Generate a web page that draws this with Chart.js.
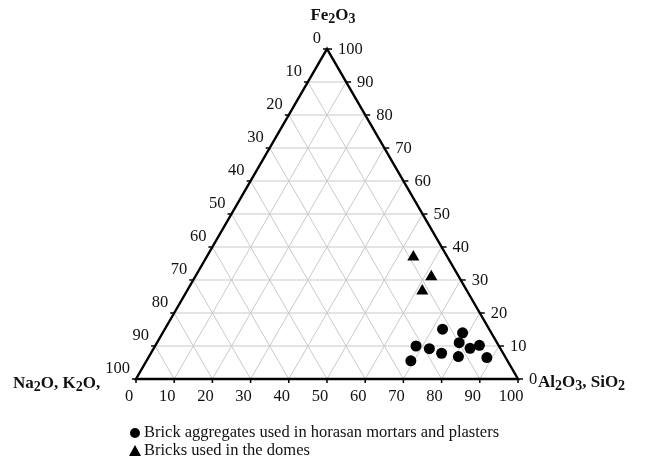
<!DOCTYPE html>
<html>
<head>
<meta charset="utf-8">
<script src="https://cdn.jsdelivr.net/npm/chart.js@4/dist/chart.umd.min.js"></script>
<style>
  body { margin: 0; background: #fff; }
</style>
</head>
<body>
<canvas id="ternary" width="646" height="460"></canvas>
<script>
// Brick aggregates (horasan mortars and plasters), wt% of each corner
const aggAlSi = [72.7, 78.5, 79.1, 68.3, 72.2, 76.1, 82.8, 84.8, 69.2, 81.0, 88.6];
const aggFe   = [15.1, 14.0, 11.0, 10.0,  9.2,  7.8,  9.3, 10.2,  5.5,  6.8,  6.5];
const aggNaK  = [12.2,  7.5,  9.9, 21.7, 18.6, 16.1,  7.9,  5.0, 25.3, 12.2,  4.9];

// Bricks used in the domes
const domeAlSi = [54.1, 61.8, 61.6];
const domeFe   = [37.0, 31.0, 26.7];
const domeNaK  = [ 8.9,  7.2, 11.7];

const tickValues = [0, 10, 20, 30, 40, 50, 60, 70, 80, 90, 100];
const gridSteps = [10, 20, 30, 40, 50, 60, 70, 80, 90];

const SQ = Math.sqrt(3) / 2;
const SERIF = '"Liberation Serif", "Times New Roman", serif';
const TICK_FONT = `16.5px ${SERIF}`;

// ternary (Al2O3+SiO2, Fe2O3, Na2O+K2O) -> cartesian, Na/K corner at origin
const toXY = (a, f, n) => {
  const s = a + f + n;
  return { x: (a + f / 2) * 100 / s, y: f * SQ * 100 / s };
};

const toPoints = (al, fe, nak) => al.map((a, i) => toXY(a, fe[i], nak[i]));

// draws text with subscript digits, e.g. [['Fe'], ['2', true], ['O'], ['3', true]]
const drawRich = (ctx, parts, x, y, align, size) => {
  const big = `bold ${size}px ${SERIF}`;
  const small = `bold ${Math.round(size * 0.85)}px ${SERIF}`;
  const widths = parts.map(([t, sub]) => {
    ctx.font = sub ? small : big;
    return ctx.measureText(t).width;
  });
  const total = widths.reduce((s, w) => s + w, 0);
  let cx = align === 'center' ? x - total / 2 : align === 'right' ? x - total : x;
  ctx.textAlign = 'left';
  ctx.textBaseline = 'alphabetic';
  parts.forEach(([t, sub], i) => {
    ctx.font = sub ? small : big;
    ctx.fillText(t, cx, sub ? y + size * 0.2 : y);
    cx += widths[i];
  });
};

const ternaryFrame = {
  id: 'ternaryFrame',
  beforeDatasetsDraw(chart) {
    const { ctx, scales: { x, y } } = chart;
    const px = (a, f) => [x.getPixelForValue(a + f / 2), y.getPixelForValue(f * SQ)];
    const line = (p, q) => {
      ctx.beginPath();
      ctx.moveTo(p[0], p[1]);
      ctx.lineTo(q[0], q[1]);
      ctx.stroke();
    };

    ctx.save();
    ctx.strokeStyle = '#c9c9c9';
    ctx.lineWidth = 1;
    gridSteps.forEach((v) => {
      line(px(0, v), px(100 - v, v));        // constant Fe2O3
      line(px(v, 0), px(v, 100 - v));        // constant Al2O3, SiO2
      line(px(100 - v, 0), px(0, 100 - v));  // constant Na2O, K2O
    });

    // outline
    ctx.strokeStyle = '#000';
    ctx.lineWidth = 2.4;
    ctx.lineJoin = 'miter';
    const [p0, p1, p2] = [px(0, 0), px(100, 0), px(0, 100)];
    ctx.beginPath();
    ctx.moveTo(p0[0], p0[1]);
    ctx.lineTo(p1[0], p1[1]);
    ctx.lineTo(p2[0], p2[1]);
    ctx.closePath();
    ctx.stroke();

    // tick marks
    ctx.lineWidth = 1.5;
    tickValues.forEach((v) => {
      const b = px(v, 0);
      line(b, [b[0], b[1] + 4]);
      const l = px(0, 100 - v);
      line(l, [l[0] - 4, l[1]]);
      const r = px(100 - v, v);
      line(r, [r[0] + 5, r[1]]);
    });
    ctx.restore();
  },
  afterDraw(chart) {
    const { ctx, scales: { x, y } } = chart;
    const px = (a, f) => [x.getPixelForValue(a + f / 2), y.getPixelForValue(f * SQ)];

    ctx.save();
    ctx.fillStyle = '#111';
    ctx.font = TICK_FONT;
    ctx.textBaseline = 'middle';
    tickValues.forEach((v) => {
      const b = px(v, 0);
      ctx.textAlign = 'center';
      ctx.fillText(String(v), b[0] - 7, b[1] + 18);
      const l = px(0, 100 - v);
      ctx.textAlign = 'right';
      ctx.fillText(String(v), l[0] - 6, l[1] - 10);
      const r = px(100 - v, v);
      ctx.textAlign = 'left';
      ctx.fillText(String(v), r[0] + 11, r[1] + 1);
    });

    // corner titles
    const top = px(0, 100);
    drawRich(ctx, [['Fe'], ['2', true], ['O'], ['3', true]], top[0] + 6, 20, 'center', 17);
    drawRich(ctx, [['Na'], ['2', true], ['O, K'], ['2', true], ['O,']], 13, 388, 'left', 17);
    drawRich(ctx, [['Al'], ['2', true], ['O'], ['3', true], [', SiO'], ['2', true]], 538, 387, 'left', 17);

    // legend
    ctx.fillStyle = '#000';
    ctx.beginPath();
    ctx.arc(135, 433, 5, 0, Math.PI * 2);
    ctx.fill();
    ctx.beginPath();
    ctx.moveTo(135, 445);
    ctx.lineTo(141, 456);
    ctx.lineTo(129, 456);
    ctx.closePath();
    ctx.fill();

    ctx.fillStyle = '#111';
    ctx.font = TICK_FONT;
    ctx.textAlign = 'left';
    ctx.textBaseline = 'middle';
    ctx.fillText('Brick aggregates used in horasan mortars and plasters', 144, 433);
    ctx.fillText('Bricks used in the domes', 144, 451);
    ctx.restore();
  }
};

new Chart(document.getElementById('ternary'), {
  type: 'scatter',
  data: {
    datasets: [
      {
        label: 'Brick aggregates used in horasan mortars and plasters',
        data: toPoints(aggAlSi, aggFe, aggNaK),
        pointStyle: 'circle',
        pointRadius: 5.5,
        backgroundColor: '#000',
        borderColor: '#000',
        borderWidth: 0
      },
      {
        label: 'Bricks used in the domes',
        data: toPoints(domeAlSi, domeFe, domeNaK),
        pointStyle: 'triangle',
        pointRadius: 7,
        backgroundColor: '#000',
        borderColor: '#000',
        borderWidth: 0
      }
    ]
  },
  options: {
    responsive: false,
    animation: false,
    layout: { padding: { left: 136, right: 128, top: 49, bottom: 81 } },
    scales: {
      x: { type: 'linear', min: 0, max: 100, display: false },
      y: { type: 'linear', min: 0, max: 100 * SQ, display: false }
    },
    plugins: {
      legend: { display: false },
      tooltip: { enabled: false }
    }
  },
  plugins: [ternaryFrame]
});
</script>
</body>
</html>
